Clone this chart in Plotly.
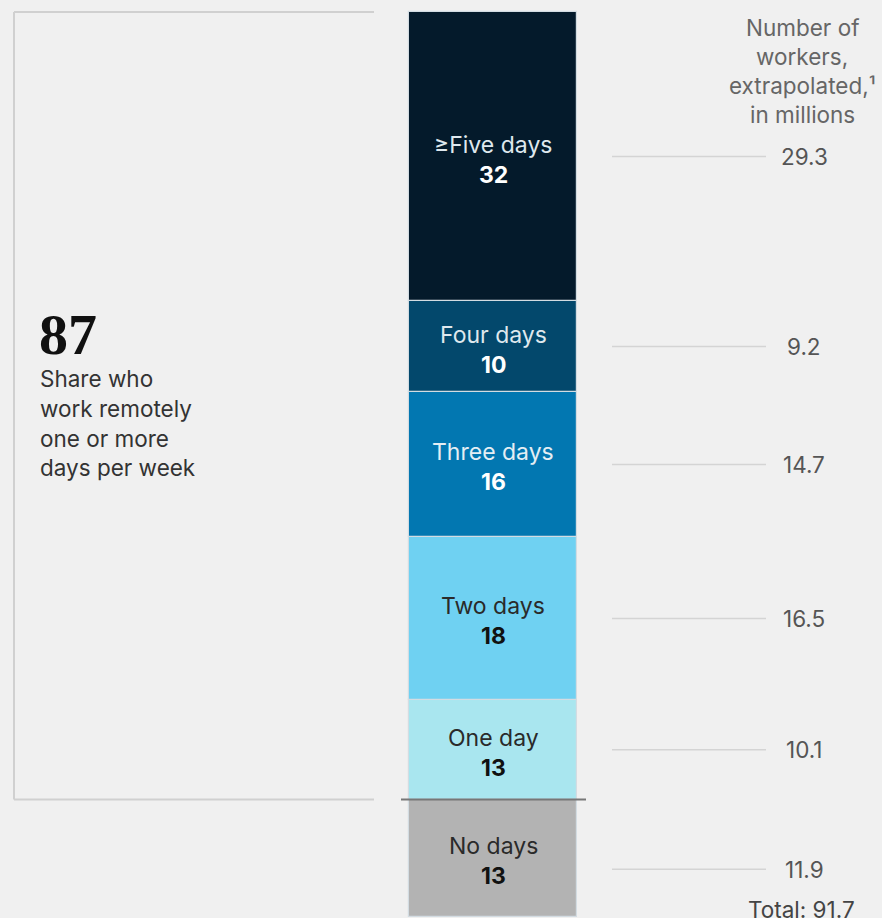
import plotly.graph_objects as go

# ---- data ----
categories = ["No days", "One day", "Two days", "Three days", "Four days", "≥Five days"]
share_pct = [13, 13, 18, 16, 10, 32]
workers_millions = [11.9, 10.1, 16.5, 14.7, 9.2, 29.3]
total_workers = 91.7
remote_share = 87
remote_lines = ["Share who", "work remotely", "one or more", "days per week"]
header_lines = ["Number of", "workers,", "extrapolated,¹", "in millions"]

# ---- styles ----
seg_colors = ["#b3b3b3", "#a9e6ef", "#6fd1f2", "#0277b1", "#03486c", "#041a2b"]
cat_colors = ["#2a2a2a", "#2a2a2a", "#2a2a2a", "#e4eef4", "#dfe8ee", "#dfe8ee"]
num_colors = ["#111111", "#111111", "#111111", "#ffffff", "#ffffff", "#ffffff"]
BG = "#f0f0f0"
SANS = "Inter, Open Sans, Arial, sans-serif"
SERIF = "Liberation Serif, DejaVu Serif, serif"
W, H = 882, 918
BAR_X, BAR_W = 493, 168


def py(px):
    return 1 - px / H


fig = go.Figure()
base = 0
mids = []
for cat, pct, val, col in zip(categories, share_pct, workers_millions, seg_colors):
    fig.add_trace(go.Bar(
        x=[BAR_X], y=[val], base=[base], width=[BAR_W],
        marker=dict(color=col, line=dict(color="#d3dce2", width=1.2)),
        hoverinfo="skip", showlegend=False, name=cat,
    ))
    mids.append(base + val / 2)
    base += val

annotations = []
shapes = []
px_per_unit = 907 / total_workers
for i, (cat, pct, val, m) in enumerate(zip(categories, share_pct, workers_millions, mids)):
    annotations.append(dict(x=BAR_X, y=m, xref="x", yref="y", text=cat, showarrow=False,
                            yshift=12, font=dict(family=SANS, size=23, color=cat_colors[i])))
    annotations.append(dict(x=BAR_X, y=m, xref="x", yref="y", text=f"<b>{pct}</b>", showarrow=False,
                            yshift=-18, font=dict(family=SANS, size=23, color=num_colors[i])))
    ly = m - (11 / px_per_unit if i == 0 else 0)
    shapes.append(dict(type="line", xref="x", yref="y", x0=612, x1=766, y0=ly, y1=ly,
                       line=dict(color="#d4d4d4", width=1.5)))
    annotations.append(dict(x=804, y=ly, xref="x", yref="y", text=f"{val}", showarrow=False,
                            font=dict(family=SANS, size=22.5, color="#555555")))

# bracket around remote workers
top = total_workers
bot = workers_millions[0]
for (x0, y0, x1, y1) in [(14, top, 374, top), (14, top, 14, bot), (14, bot, 374, bot)]:
    shapes.append(dict(type="line", xref="x", yref="y", x0=x0, x1=x1, y0=y0, y1=y1,
                       line=dict(color="#d0d0d0", width=2)))
shapes.append(dict(type="line", xref="x", yref="y", x0=401, x1=586, y0=bot, y1=bot,
                   line=dict(color="#777777", width=2)))

annotations.append(dict(x=37, y=py(300), xref="x", yref="paper", xanchor="left", yanchor="top",
                        text=f"<b>{remote_share}</b>", showarrow=False,
                        font=dict(family=SERIF, size=58, color="#111111")))
for k, line in enumerate(remote_lines):
    annotations.append(dict(x=38, y=py(378 + 30 * k), xref="x", yref="paper", xanchor="left",
                            yanchor="middle", text=line, showarrow=False,
                            font=dict(family=SANS, size=22.5, color="#333333")))
for k, line in enumerate(header_lines):
    annotations.append(dict(x=802, y=py(28 + 28.7 * k), xref="x", yref="paper", xanchor="center",
                            yanchor="middle", text=line, showarrow=False,
                            font=dict(family=SANS, size=22.5, color="#666666")))
annotations.append(dict(x=801, y=py(909), xref="x", yref="paper", xanchor="center", yanchor="middle",
                        text=f"Total: {total_workers}", showarrow=False,
                        font=dict(family=SANS, size=22.5, color="#444444")))

fig.update_layout(
    width=W, height=H, margin=dict(l=0, r=0, t=0, b=0),
    paper_bgcolor=BG, plot_bgcolor=BG, barmode="overlay", bargap=0,
    xaxis=dict(range=[0, W], visible=False, fixedrange=True),
    yaxis=dict(range=[-0.1, total_workers + 12 / px_per_unit], visible=False, fixedrange=True),
    annotations=annotations, shapes=shapes,
)
fig.write_html("out.html", config={"displayModeBar": False},
               post_script="document.body.style.margin='0';document.body.style.background='#f0f0f0';document.body.style.overflow='hidden';")
